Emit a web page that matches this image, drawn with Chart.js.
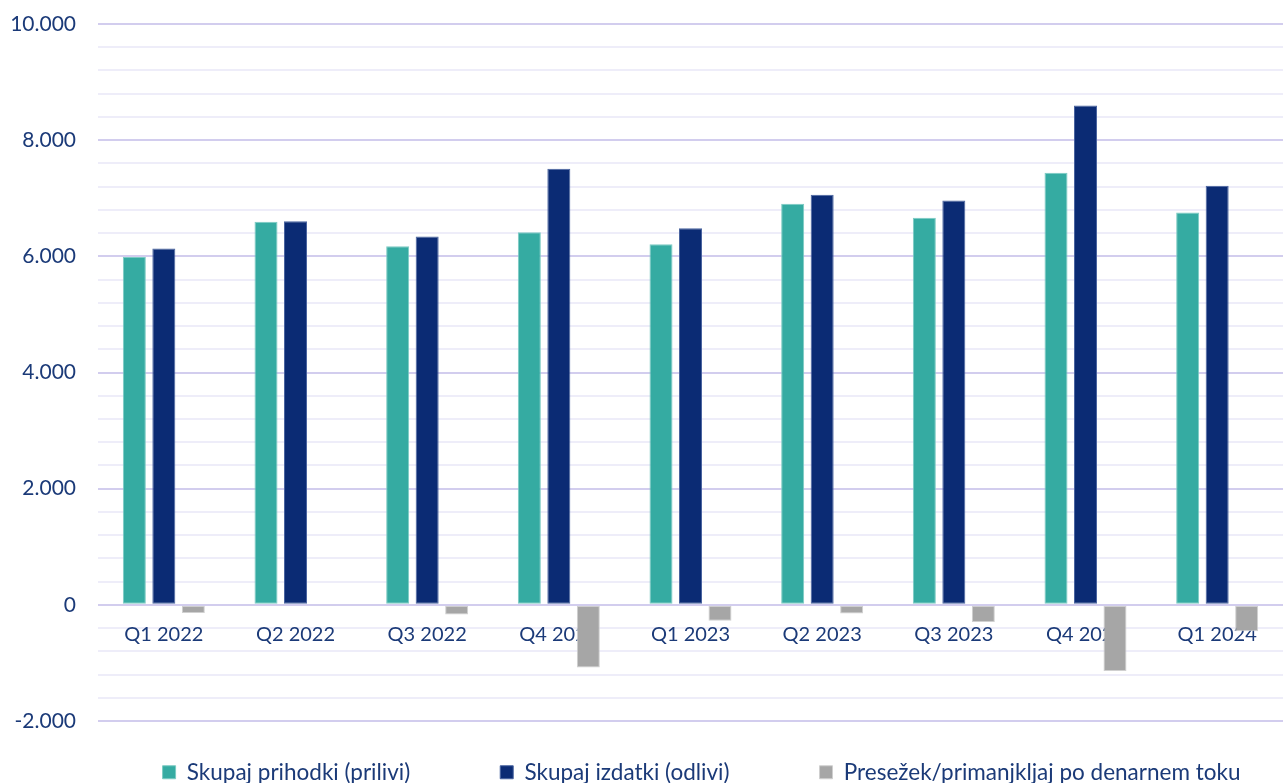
<!DOCTYPE html>
<html lang="sl">
<head>
<meta charset="utf-8">
<title>Denarni tok</title>
<script src="https://cdn.jsdelivr.net/npm/chart.js@4.4.1/dist/chart.umd.min.js"></script>
<style>
  html, body { margin: 0; padding: 0; background: #ffffff; }
  #wrap { position: relative; width: 1283px; height: 783px; }
</style>
</head>
<body>
<div id="wrap"><canvas id="chartCash"></canvas></div>
<script>
'use strict';

// Podatki
var quarters = ['Q1 2022', 'Q2 2022', 'Q3 2022', 'Q4 2022', 'Q1 2023', 'Q2 2023', 'Q3 2023', 'Q4 2023', 'Q1 2024'];
var prihodki = [5990, 6595, 6175, 6415, 6210, 6905, 6665, 7440, 6755];
var izdatki = [6135, 6605, 6340, 7510, 6485, 7060, 6960, 8595, 7215];
var presezek = [-140, -10, -165, -1080, -275, -150, -295, -1140, -455];
var seriesNames = ['Skupaj prihodki (prilivi)', 'Skupaj izdatki (odlivi)', 'Presežek/primanjkljaj po denarnem toku'];
var yMin = -2000;
var yMax = 10000;
var yStep = 400;
var yMajor = 2000;

var textColor = '#1b3a78';
var majorGrid = '#d2cdee';
var minorGrid = '#eeedf9';
var fontFamily = 'Lato, "Liberation Sans", sans-serif';

var legendPadding = 90;
var legendTextOffset = 40; // razmik od spodnjega roba grafa do besedila legende
var legendNudge = 60;

function formatNum(v) {
  var neg = v < 0;
  var s = String(Math.abs(v)).replace(/\B(?=(\d{3})+(?!\d))/g, '.');
  return (neg ? '-' : '') + s;
}

// legenda ima velik vodoravni razmik, navpično pa jo premaknemo nazaj bliže grafu
var legendShift = {
  id: 'legendShift',
  afterLayout: function (chart) {
    var lg = chart.legend;
    if (!lg) return;
    lg.top -= legendPadding - legendTextOffset;
    lg.left += legendNudge;
    lg.right += legendNudge;
  }
};

var ctx = document.getElementById('chartCash').getContext('2d');

new Chart(ctx, {
  type: 'bar',
  data: {
    labels: quarters,
    datasets: [{
      label: seriesNames[0],
      data: prihodki,
      backgroundColor: '#35aba2',
      borderColor: '#7ccbc3',
      borderWidth: 1
    }, {
      label: seriesNames[1],
      data: izdatki,
      backgroundColor: '#0b2b74',
      borderColor: '#4a64a0',
      borderWidth: 1
    }, {
      label: seriesNames[2],
      data: presezek,
      backgroundColor: '#a6a6a6',
      borderColor: '#d0d0d0',
      borderWidth: 1
    }]
  },
  plugins: [legendShift],
  options: {
    responsive: true,
    maintainAspectRatio: false,
    animation: false,
    datasets: {
      bar: { categoryPercentage: 0.672, barPercentage: 0.78, borderSkipped: false }
    },
    layout: { padding: { top: 0, right: 0, bottom: 0, left: 0 } },
    plugins: {
      tooltip: { enabled: false },
      legend: {
        position: 'bottom',
        maxHeight: 62,
        labels: {
          color: textColor,
          font: { family: fontFamily, size: 22.5 },
          boxWidth: 13,
          boxHeight: 13,
          padding: legendPadding
        }
      }
    },
    scales: {
      x: {
        position: { y: 0 },
        grid: { display: false, drawTicks: false },
        border: { display: false },
        ticks: {
          color: textColor,
          font: { family: fontFamily, size: 20 },
          padding: 18,
          maxRotation: 0
        }
      },
      y: {
        min: yMin,
        max: yMax,
        afterFit: function (scale) {
          scale.width = 98;
          scale.paddingTop = 24;
          scale.paddingBottom = 0;
        },
        border: { display: false },
        grid: {
          drawTicks: false,
          lineWidth: 2,
          color: function (c) {
            return c.tick && c.tick.value % yMajor === 0 ? majorGrid : minorGrid;
          }
        },
        ticks: {
          stepSize: yStep,
          autoSkip: false,
          color: textColor,
          font: { family: fontFamily, size: 21 },
          padding: 22,
          callback: function (value) {
            if (value % yMajor !== 0) return '';
            return formatNum(value);
          }
        }
      }
    }
  }
});
</script>
</body>
</html>
